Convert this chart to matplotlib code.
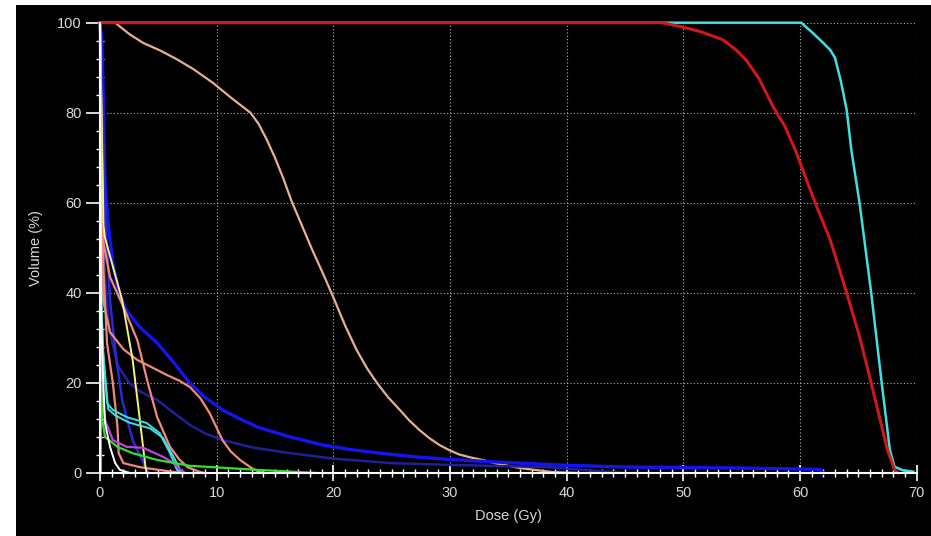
import matplotlib
matplotlib.use("Agg")
import matplotlib.pyplot as plt
from matplotlib.patches import Rectangle
from matplotlib.ticker import MultipleLocator

# ---------- DVH curves: dose (Gy) vs volume (%) ----------

orange_dose = [0, 0.04, 0.06]
orange_vol = [100, 100, 0]

tan_dose = [0, 1.3, 2.5, 3.7, 5.1, 6.5, 8, 9.7, 11.3, 12.9, 13.6, 14.3, 15, 15.7, 16.4, 17.3, 18.2, 19.2,
            20.1, 21, 22, 22.9, 23.8, 24.7, 25.7, 26.5, 27.4, 28.2, 29.1, 30, 30.8, 31.7, 32.6, 34, 36, 38.8, 41]
tan_vol = [100, 100, 97.5, 95.5, 93.9, 92, 89.7, 86.6, 83.2, 80, 77.5, 74, 70, 65.5, 60.5, 55, 49.5, 43.8,
           38.4, 32.8, 27.3, 23.2, 19.8, 16.8, 14, 11.7, 9.5, 7.8, 6.2, 5, 4.1, 3.5, 3, 2.1, 1.1, 0.2, 0]

blue_dose = [0, 0.17, 0.43, 0.69, 1.1, 1.6, 2.3, 3.4, 4.9, 6.3, 7.7, 9, 10.5, 12, 13.5, 15, 16.3, 17.7,
             19.1, 21.5, 24, 27, 30, 35, 40, 45.4, 55, 61.7, 62]
blue_vol = [100, 96, 65, 55.5, 46.6, 40, 36, 32.4, 28.9, 24.6, 20, 16.8, 14, 12, 10.2, 9, 8, 7.1,
            6.2, 5.2, 4.4, 3.6, 3, 2.3, 1.7, 1.3, 1.1, 0.8, 0]

navy_dose = [0, 0.15, 0.4, 0.8, 1.5, 2.5, 3.5, 4.9, 6.3, 7.7, 9, 10.5, 13, 16.3, 20, 24.9, 30, 38.3, 45]
navy_vol = [100, 70, 45, 32, 24, 20, 18, 16.2, 13.4, 10.7, 8.8, 7.3, 5.7, 4.4, 3.2, 2.2, 1.8, 1.3, 0]

midblue_dose = [0, 0.2, 0.5, 0.86, 1.3, 1.9, 2.8, 3.9, 4.2]
midblue_vol = [100, 80, 55, 38.4, 27.3, 16.2, 7.3, 1.3, 0]

yellow_dose = [0, 0.3, 0.43, 1.9, 2.8, 3.9, 4.0]
yellow_vol = [100, 55, 52.2, 38.4, 25.1, 1.3, 0]

salmon_a_dose = [0, 0.1, 0.2, 0.26, 0.86, 2, 3.2, 4.5, 5.7, 6.8, 7.7, 8.6, 9.4, 10.5, 11.2, 12, 13, 13.7, 14.2]
salmon_a_vol = [100, 60, 45, 38.4, 31.3, 27.5, 25.1, 23.4, 21.8, 20.5, 19.1, 16.6, 13.3, 7.3, 4.8, 2.9, 1.1, 0.2, 0]

salmon_b_dose = [0, 0.15, 0.26, 0.86, 2, 3.2, 4.1, 4.9, 6, 6.8, 7.5, 8.6, 9]
salmon_b_vol = [100, 70, 51.7, 43.5, 36.9, 29.5, 20, 12.4, 5.8, 3, 1.3, 0.2, 0]

salmon_c_dose = [0, 0.3, 0.6, 1.1, 1.5, 1.6, 2, 3.4, 6.4, 7]
salmon_c_vol = [100, 45, 28.9, 20, 10.2, 4.4, 2.2, 1.3, 0.2, 0]

cyan1_dose = [0, 0.1, 0.26, 0.6, 1.1, 2.3, 4, 5.1, 6, 6.6, 7]
cyan1_vol = [100, 40, 27.3, 15.5, 14, 12.4, 11.1, 8.9, 4.4, 0.7, 0]
cyan2_dose = [0, 0.1, 0.3, 0.7, 1.3, 2.5, 4.3, 5.4, 6.3, 6.9, 7.3]
cyan2_vol = [100, 38, 25.5, 14.2, 12.8, 11.2, 9.9, 7.8, 3.6, 0.6, 0]

magenta_dose = [0, 0.05, 0.1, 0.17, 0.43, 1.1, 2.3, 3.7, 5.4, 6.3, 6.9, 7.2]
magenta_vol = [100, 40, 25, 17.8, 11.8, 7.3, 5.8, 5.6, 3.6, 2.2, 0.7, 0]

green_dose = [0, 0.05, 0.17, 0.43, 1.5, 2.8, 4.9, 7.7, 13.5, 18.6]
green_vol = [100, 30, 12.4, 8, 5.8, 4.4, 2.9, 1.6, 0.7, 0]

white_dose = [0, 0.1, 0.26, 0.43, 0.86, 1.3, 1.7, 2.3, 2.6]
white_vol = [100, 35, 21.3, 11.1, 5.8, 2.2, 0.7, 0.2, 0]

red_dose = [0, 48.2, 50, 51.5, 53.4, 54.5, 55.4, 56.5, 57.7, 58.7, 59.6, 61.3, 62.6, 64, 65.1, 66.1, 66.8,
            67.5, 68.1, 68.4]
red_vol = [100, 100, 99, 98, 96.2, 94, 91.7, 87.5, 81.3, 77, 71.7, 60, 51.7, 40, 30.3, 20, 12.5,
           5.1, 0.7, 0]

cyan_dose = [0, 60.1, 61.1, 62, 62.6, 63, 63.5, 64, 64.4, 65.1, 66.1, 67, 67.7, 68.1, 68.8, 69.7]
cyan_vol = [100, 100, 97.7, 95.5, 93.9, 92.2, 87, 80.6, 71.7, 60, 40, 20, 5.1, 1.4, 0.6, 0.3]

curves = [
    (orange_dose, orange_vol, "#f08020", 2.0),
    (tan_dose, tan_vol, "#e8b090", 1.6),
    (navy_dose, navy_vol, "#20209a", 1.8),
    (blue_dose, blue_vol, "#1414f0", 2.4),
    (midblue_dose, midblue_vol, "#2a2ad0", 1.8),
    (salmon_a_dose, salmon_a_vol, "#f08a7c", 1.6),
    (salmon_b_dose, salmon_b_vol, "#f08a7c", 1.6),
    (salmon_c_dose, salmon_c_vol, "#f08a7c", 1.6),
    (yellow_dose, yellow_vol, "#f4f47c", 1.4),
    (cyan1_dose, cyan1_vol, "#40e0e0", 1.4),
    (cyan2_dose, cyan2_vol, "#40e0e0", 1.4),
    (magenta_dose, magenta_vol, "#c040e0", 1.6),
    (green_dose, green_vol, "#30e030", 1.6),
    (white_dose, white_vol, "#ffffff", 1.4),
    (cyan_dose, cyan_vol, "#40e0e0", 1.8),
    (red_dose, red_vol, "#d01818", 2.2),
]

fig = plt.figure(figsize=(9.31, 5.36), dpi=100, facecolor="white")
# black panel with a thin white margin at top and left
fig.patches.append(Rectangle((16 / 931, 0), 1, 1 - 5 / 536, transform=fig.transFigure,
                             facecolor="black", edgecolor="none", zorder=-10))

ax = fig.add_axes([100 / 931, 1 - 473 / 536, 816.7 / 931, 450.3 / 536])
ax.set_facecolor("black")

for d, v, c, lw in curves:
    ax.plot(d, v, color=c, linewidth=lw, clip_on=False, solid_joinstyle="round")

ax.set_xlim(0, 70)
ax.set_ylim(0, 100)
ax.xaxis.set_major_locator(MultipleLocator(10))
ax.xaxis.set_minor_locator(MultipleLocator(1))
ax.yaxis.set_major_locator(MultipleLocator(20))
ax.yaxis.set_minor_locator(MultipleLocator(4))

ax.grid(True, which="major", color="#b0b0b0", linestyle=(0, (1, 2)), linewidth=0.8)
ax.set_axisbelow(True)

for side in ["top", "right"]:
    ax.spines[side].set_visible(False)
for side in ["left", "bottom"]:
    ax.spines[side].set_color("white")
    ax.spines[side].set_linewidth(1.5)

label_color = "#d8d8d8"
ax.tick_params(axis="x", which="major", direction="inout", length=11, width=1.2,
               color="white", labelcolor=label_color, labelsize=10.5, pad=4)
ax.tick_params(axis="x", which="minor", direction="inout", length=6, width=1.0, color="white")
ax.tick_params(axis="y", which="major", direction="out", length=10, width=1.2,
               color="white", labelcolor=label_color, labelsize=10.5, pad=3)
ax.tick_params(axis="y", which="minor", direction="inout", length=6, width=1.0, color="white")

for lab in ax.get_xticklabels() + ax.get_yticklabels():
    lab.set_fontfamily("Liberation Sans")

ax.set_xlabel("Dose (Gy)", color=label_color, fontsize=10.5, family="Liberation Sans", labelpad=6)
ax.set_ylabel("Volume (%)", color=label_color, fontsize=10.5, family="Liberation Sans", labelpad=10)

fig.savefig("out.png", dpi=100, facecolor=fig.get_facecolor())
